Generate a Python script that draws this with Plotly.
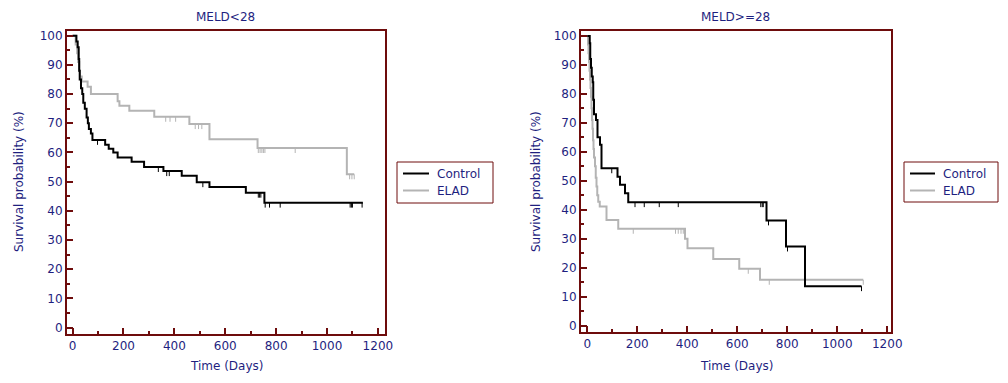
import plotly.graph_objects as go

# ---------------- data ----------------
# MELD<28
ctl_lo_t = [0, 15, 20, 24, 26, 28, 33, 38, 42, 48, 55, 60, 64, 72, 78, 128, 142, 160, 177, 232, 281, 357, 429, 488, 538, 681, 754, 1141]
ctl_lo_s = [100, 98, 96, 92, 88, 85, 82, 80, 77, 75, 72, 70, 68, 66.5, 64.3, 62.6, 61.3, 60, 58.3, 56.8, 55, 53.6, 52, 49.8, 48.2, 46.2, 42.8, 42.8]
ctl_lo_cens = [98, 337, 370, 380, 512, 730, 735, 740, 757, 774, 816, 1091, 1096, 1100, 1138]

elad_lo_t = [0, 12, 18, 22, 26, 29, 36, 59, 72, 177, 184, 223, 321, 459, 538, 727, 1078, 1107]
elad_lo_s = [100, 97, 94, 91, 88, 86, 84.3, 82.5, 80, 77.5, 76, 74.3, 72.2, 69.7, 64.5, 61.5, 52.5, 52.5]
elad_lo_cens = [366, 383, 405, 482, 495, 508, 730, 737, 744, 750, 756, 875, 1089, 1098, 1107]

# MELD>=28
ctl_hi_t = [0, 10, 12, 15, 18, 22, 24, 27, 35, 41, 51, 57, 121, 131, 151, 164, 717, 795, 871, 1097]
ctl_hi_s = [100, 97.5, 92, 89, 86, 84, 78, 73, 71, 65, 62.4, 54.3, 51.4, 48.6, 45.7, 42.6, 36.3, 27.3, 13.6, 13.6]
ctl_hi_cens = [98, 191, 228, 288, 364, 694, 700, 704, 725, 801, 1097]

elad_hi_t = [0, 3, 5, 7, 9, 11, 13, 15, 17, 19, 21, 23, 25, 27, 31, 34, 37, 40, 44, 50, 77, 124, 391, 401, 504, 608, 691, 1104]
elad_hi_s = [100, 97, 94, 91, 88, 85, 82, 79, 75, 71, 68, 64, 61, 58, 55, 51, 48, 45, 42.8, 41.1, 36.5, 33.4, 30, 26.7, 23.0, 19.6, 15.8, 15.8]
elad_hi_cens = [184, 353, 364, 375, 384, 644, 728, 1104]

panel_titles = ["MELD<28", "MELD>=28"]
series_names = ["Control", "ELAD"]
x_ticks = [0, 200, 400, 600, 800, 1000, 1200]
y_ticks = [0, 10, 20, 30, 40, 50, 60, 70, 80, 90, 100]

# ---------------- styles ----------------
W, H = 1008, 383
NAVY = "#1f1f7f"
MAROON = "#6e0c0c"
C_CTL = "#000000"
C_ELAD = "#b4b4b4"
FONT = "DejaVu Sans, Liberation Sans, Arial, sans-serif"
FS = 12
CENS_LEN = 1.7  # length of censor ticks in % units

def px_x(p):
    return p / W

def px_y(p):
    return 1 - p / H

def surv_at(t, ts, ss):
    val = ss[0]
    for tt, s in zip(ts, ss):
        if tt <= t:
            val = s
        else:
            break
    return val

def cens_xy(cens, ts, ss):
    xs, ys = [], []
    for c in cens:
        s = surv_at(c, ts, ss)
        xs += [c, c, None]
        ys += [s, s - CENS_LEN, None]
    return xs, ys

fig = go.Figure()

panels = [
    dict(x="x", y="y",
         data=[(ctl_lo_t, ctl_lo_s, ctl_lo_cens, C_CTL, series_names[0]),
               (elad_lo_t, elad_lo_s, elad_lo_cens, C_ELAD, series_names[1])]),
    dict(x="x2", y="y2",
         data=[(ctl_hi_t, ctl_hi_s, ctl_hi_cens, C_CTL, series_names[0]),
               (elad_hi_t, elad_hi_s, elad_hi_cens, C_ELAD, series_names[1])]),
]

for p in panels:
    for ts, ss, cens, col, name in reversed(p["data"]):
        cx, cy = cens_xy(cens, ts, ss)
        fig.add_trace(go.Scatter(x=cx, y=cy, mode="lines", xaxis=p["x"], yaxis=p["y"],
                                 line=dict(color=col, width=1), showlegend=False,
                                 hoverinfo="skip"))
    for ts, ss, cens, col, name in reversed(p["data"]):
        fig.add_trace(go.Scatter(x=ts, y=ss, mode="lines", name=name, showlegend=False,
                                 xaxis=p["x"], yaxis=p["y"],
                                 line=dict(color=col, width=2, shape="hv")))

axis_common = dict(showline=True, mirror=True, linecolor=MAROON, linewidth=2,
                   ticks="inside", tickcolor=MAROON, tickwidth=2, ticklen=6,
                   showgrid=False, zeroline=False, automargin=False,
                   tickfont=dict(family=FONT, size=FS, color=NAVY))
minor_x = dict(ticks="inside", ticklen=3, tickcolor=MAROON, dtick=100, tick0=0)
minor_y = dict(ticks="inside", ticklen=3, tickcolor=MAROON, dtick=5, tick0=0)

fig.update_layout(
    template="none",
    width=W, height=H,
    margin=dict(l=0, r=0, t=0, b=0, pad=0, autoexpand=False),
    paper_bgcolor="white", plot_bgcolor="white",
    font=dict(family=FONT, size=FS, color=NAVY),
    showlegend=False,
    xaxis=dict(domain=[px_x(67), px_x(385)], range=[-22, 1228], anchor="y",
               tickvals=x_ticks, minor=minor_x, **axis_common),
    yaxis=dict(domain=[px_y(334), px_y(31)], range=[-2.2, 101.6], anchor="x",
               tickvals=y_ticks, minor=minor_y, **axis_common),
    xaxis2=dict(domain=[px_x(581), px_x(891)], range=[-25, 1215], anchor="y2",
                tickvals=x_ticks, minor=minor_x, **axis_common),
    yaxis2=dict(domain=[px_y(331.7), px_y(31)], range=[-2.1, 101.7], anchor="x2",
                tickvals=y_ticks, minor=minor_y, **axis_common),
)

ann = []
shapes = []
for title, cx in zip(panel_titles, [225, 735]):
    ann.append(dict(text=title, x=px_x(cx), y=px_y(17), xref="paper", yref="paper",
                    showarrow=False, xanchor="center", yanchor="middle",
                    font=dict(family=FONT, size=FS, color=NAVY)))
for cx in [227, 737]:
    ann.append(dict(text="Time (Days)", x=px_x(cx), y=px_y(366), xref="paper", yref="paper",
                    showarrow=False, xanchor="center", yanchor="middle",
                    font=dict(family=FONT, size=FS, color=NAVY)))
for cx in [19, 536]:
    ann.append(dict(text="Survival probability (%)", x=px_x(cx), y=px_y(182), xref="paper",
                    yref="paper", showarrow=False, textangle=-90,
                    xanchor="center", yanchor="middle",
                    font=dict(family=FONT, size=FS, color=NAVY)))

# legend boxes (one per panel)
legend_boxes = [dict(x0=397, x1=493, y0=162, y1=203, lx0=403, lx1=429, tx=435),
                dict(x0=904, x1=998, y0=162, y1=202, lx0=910, lx1=935, tx=941)]
entry_y = [173.5, 190.5]
for lb in legend_boxes:
    shapes.append(dict(type="rect", xref="paper", yref="paper",
                       x0=px_x(lb["x0"]), x1=px_x(lb["x1"]),
                       y0=px_y(lb["y1"]), y1=px_y(lb["y0"]),
                       line=dict(color=MAROON, width=1), fillcolor="white", layer="above"))
    for name, col, ey in zip(series_names, [C_CTL, C_ELAD], entry_y):
        shapes.append(dict(type="line", xref="paper", yref="paper",
                           x0=px_x(lb["lx0"]), x1=px_x(lb["lx1"]),
                           y0=px_y(ey), y1=px_y(ey),
                           line=dict(color=col, width=2), layer="above"))
        ann.append(dict(text=name, x=px_x(lb["tx"]), y=px_y(ey), xref="paper", yref="paper",
                        showarrow=False, xanchor="left", yanchor="middle",
                        font=dict(family=FONT, size=FS, color=NAVY)))

fig.update_layout(annotations=ann, shapes=shapes)

fig.write_html("out.html", config={"displayModeBar": False},
               post_script="document.body.style.margin='0';")
